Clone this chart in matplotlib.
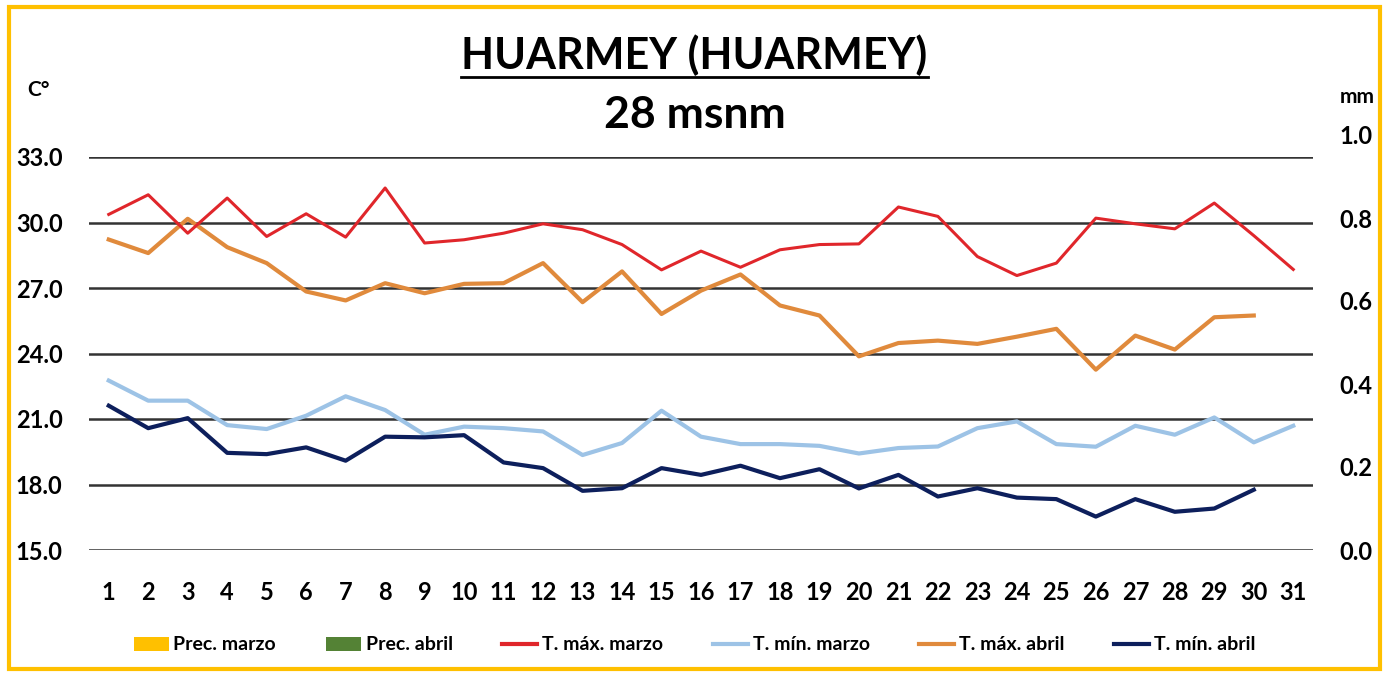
import matplotlib
matplotlib.use("Agg")
import matplotlib.pyplot as plt
from matplotlib.patches import Patch, Rectangle
from matplotlib.lines import Line2D

plt.rcParams['font.family'] = ['Lato', 'DejaVu Sans']

days = list(range(1, 32))

tmax_marzo = [30.37, 31.27, 29.51, 31.12, 29.36, 30.40, 29.33, 31.58, 29.06, 29.21,
              29.51, 29.94, 29.67, 28.99, 27.83, 28.69, 27.95, 28.75, 28.99, 29.02,
              30.71, 30.28, 28.44, 27.57, 28.14, 30.20, 29.94, 29.71, 30.89, 29.40, 27.85]
tmin_marzo = [22.76, 21.84, 21.84, 20.72, 20.54, 21.15, 22.04, 21.41, 20.28, 20.65,
              20.58, 20.43, 19.35, 19.90, 21.38, 20.19, 19.85, 19.85, 19.77, 19.42,
              19.67, 19.74, 20.58, 20.89, 19.85, 19.73, 20.69, 20.28, 21.07, 19.93, 20.69]
tmax_abril = [29.22, 28.60, 30.17, 28.87, 28.14, 26.84, 26.43, 27.22, 26.76, 27.19,
              27.22, 28.14, 26.35, 27.76, 25.81, 26.88, 27.62, 26.20, 25.74, 23.87,
              24.48, 24.59, 24.44, 24.77, 25.13, 23.26, 24.82, 24.18, 25.66, 25.74]
tmin_abril = [21.61, 20.58, 21.04, 19.45, 19.39, 19.70, 19.09, 20.19, 20.16, 20.26,
              19.01, 18.75, 17.71, 17.83, 18.75, 18.44, 18.86, 18.29, 18.70, 17.82,
              18.44, 17.45, 17.83, 17.40, 17.33, 16.53, 17.33, 16.75, 16.90, 17.76]
prec_marzo = [0.0] * 31
prec_abril = [0.0] * 30

temp_ticks = [15.0, 18.0, 21.0, 24.0, 27.0, 30.0, 33.0]
prec_ticks = [0.0, 0.2, 0.4, 0.6, 0.8, 1.0]

C_PREC_M = '#FFC000'
C_PREC_A = '#548235'
C_TMAX_M = '#E0262B'
C_TMIN_M = '#9DC3E6'
C_TMAX_A = '#E08A3C'
C_TMIN_A = '#0D1F5C'

W, H = 1389, 676
fig = plt.figure(figsize=(W / 100, H / 100), dpi=100)
fig.patch.set_facecolor('white')

left = 89 / W
width = (1313 - 89) / W
bottom = 1 - 550 / H
height = (550 - 157) / H

ax = fig.add_axes([left, bottom, width, height])
ax2 = fig.add_axes([left, bottom, width, (550 - 135) / H])
ax2.set_facecolor('none')

# precipitation bars (all zero)
ax2.bar([d - 0.2 for d in days], prec_marzo, width=0.4, color=C_PREC_M)
ax2.bar([d + 0.2 for d in days[:len(prec_abril)]], prec_abril, width=0.4, color=C_PREC_A)

ax.plot(days, tmax_marzo, color=C_TMAX_M, lw=2.2, zorder=4)
ax.plot(days, tmin_marzo, color=C_TMIN_M, lw=3.0, zorder=3)
ax.plot(days[:len(tmax_abril)], tmax_abril, color=C_TMAX_A, lw=3.0, zorder=3)
ax.plot(days[:len(tmin_abril)], tmin_abril, color=C_TMIN_A, lw=3.0, zorder=3)

ax.set_xlim(0.5, 31.5)
ax.set_ylim(15, 33)
ax.set_yticks(temp_ticks)
ax.set_yticklabels([f"{v:.1f}" for v in temp_ticks])
ax.set_xticks(days)
ax.set_xticklabels([str(d) for d in days])
ax.grid(axis='y', color='#333333', lw=1.8, zorder=1)
ax.set_axisbelow(True)
for s in ax.spines.values():
    s.set_visible(False)
ax.tick_params(axis='both', length=0, labelsize=17)
ax.tick_params(axis='y', pad=19)
ax.tick_params(axis='x', pad=22)
for lab in ax.get_xticklabels() + ax.get_yticklabels():
    lab.set_fontweight('bold')

ax2.set_xlim(0.5, 31.5)
ax2.set_ylim(0, 1.0)
ax2.set_yticks(prec_ticks)
ax2.set_yticklabels([f"{v:.1f}" for v in prec_ticks])
ax2.yaxis.tick_right()
ax2.set_xticks([])
for s in ax2.spines.values():
    s.set_visible(False)
ax2.tick_params(axis='y', length=0, labelsize=17, pad=19)
for lab in ax2.get_yticklabels():
    lab.set_fontweight('bold')

fig.text(38 / W, 1 - 90 / H, 'C°', ha='center', va='center', fontsize=15, fontweight='bold')
fig.text(1340 / W, 1 - 97 / H, 'mm', ha='left', va='center', fontsize=15, fontweight='bold')

title = fig.text(0.5, 1 - 55 / H, 'HUARMEY (HUARMEY)', ha='center', va='center',
                 fontsize=31, fontweight='bold')
fig.text(0.5, 1 - 115 / H, '28 msnm', ha='center', va='center', fontsize=32, fontweight='bold')

fig.canvas.draw()
bb = title.get_window_extent()
fig.add_artist(Line2D([bb.x0 / W, bb.x1 / W], [1 - 77 / H, 1 - 77 / H],
                      transform=fig.transFigure, color='black', lw=2.0))

handles = [Patch(facecolor=C_PREC_M, label='Prec. marzo'),
           Patch(facecolor=C_PREC_A, label='Prec. abril'),
           Line2D([], [], color=C_TMAX_M, lw=3, label='T. máx. marzo'),
           Line2D([], [], color=C_TMIN_M, lw=3, label='T. mín. marzo'),
           Line2D([], [], color=C_TMAX_A, lw=3, label='T. máx. abril'),
           Line2D([], [], color=C_TMIN_A, lw=3, label='T. mín. abril')]
leg = fig.legend(handles=handles, loc='center', bbox_to_anchor=(0.5, 1 - 645 / H), ncol=6,
                 frameon=False, prop={'size': 14, 'weight': 'bold'}, columnspacing=2.55,
                 handlelength=1.8, handletextpad=0.25, handleheight=0.7)

# yellow frame
fig.add_artist(Rectangle((1382 / W, 0), 7 / W, 1, transform=fig.transFigure,
                         facecolor='white', edgecolor='none', zorder=20))
fig.add_artist(Rectangle((8.5 / W, 1 - 669 / H), (1380 - 8.5) / W, (669 - 7) / H,
                         transform=fig.transFigure, facecolor='none', edgecolor='#FFC000',
                         lw=3.0, zorder=21))

fig.savefig('out.png', dpi=100)
